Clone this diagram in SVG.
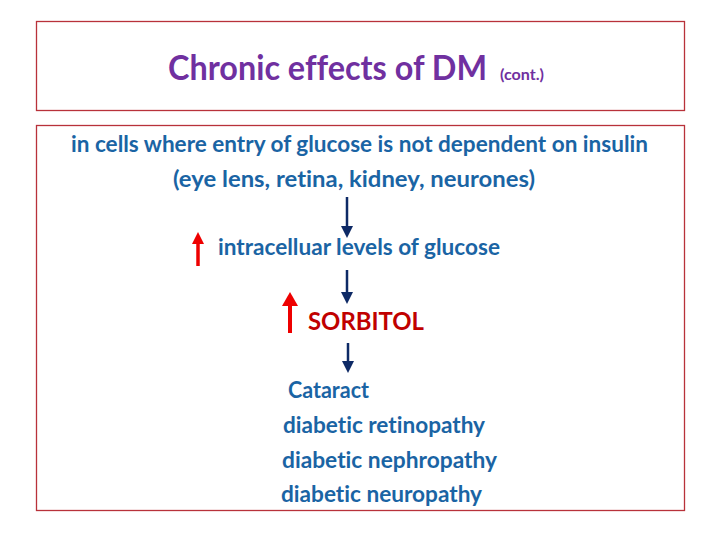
<svg xmlns="http://www.w3.org/2000/svg" width="720" height="540" viewBox="0 0 720 540">
<defs>
<style>
.box{fill:#fff;stroke:#b8323a;stroke-width:1.3}
.t{font-family:Lato,"Open Sans","Liberation Sans",sans-serif;font-weight:bold;fill:#1a64a4;font-size:23px;font-variant-ligatures:none;font-feature-settings:"liga" 0,"dlig" 0,"clig" 0}
.title{font-family:Lato,"Open Sans","Liberation Sans",sans-serif;font-weight:bold;fill:#7030a0;font-size:34px;font-variant-ligatures:none}
.small{font-size:16px}
.sorb{fill:#c00000;font-size:24px}
</style>
</defs>
<rect width="720" height="540" fill="#fff"/>
<g id="title">
<rect class="box" x="36.5" y="21.5" width="648" height="89"/>
<text class="title" x="168" y="80" textLength="319" lengthAdjust="spacingAndGlyphs">Chronic effects of DM</text>
<text class="title small" x="500" y="80" textLength="44" lengthAdjust="spacingAndGlyphs">(cont.)</text>
</g>
<g id="content-box"><rect class="box" x="36.5" y="125.5" width="648" height="385"/></g>
<g id="cells">
<text class="t" x="71" y="152" textLength="577" lengthAdjust="spacingAndGlyphs">in cells where entry of glucose is not dependent on insulin</text>
<text class="t" x="173" y="187" textLength="362" lengthAdjust="spacingAndGlyphs">(eye lens, retina, kidney, neurones)</text>
</g>
<g id="glucose">
<path d="M198,266 V240" stroke="#ee0000" stroke-width="3.5"/><path d="M192,244 L198,232 L204,244 Z" fill="#ee0000"/>
<text class="t" x="218" y="255" textLength="282" lengthAdjust="spacingAndGlyphs">intracelluar levels of glucose</text>
</g>
<g id="sorbitol">
<path d="M290,333 V300" stroke="#ee0000" stroke-width="4"/><path d="M282,306 L290,292 L298,306 Z" fill="#ee0000"/>
<text class="t sorb" x="308" y="330" textLength="116" lengthAdjust="spacingAndGlyphs">SORBITOL</text>
</g>
<g id="complications">
<text class="t" x="288" y="398" textLength="81" lengthAdjust="spacingAndGlyphs">Cataract</text>
<text class="t" x="283" y="433" textLength="202" lengthAdjust="spacingAndGlyphs">diabetic retinopathy</text>
<text class="t" x="282" y="468" textLength="215" lengthAdjust="spacingAndGlyphs">diabetic nephropathy</text>
<text class="t" x="281" y="502" textLength="201" lengthAdjust="spacingAndGlyphs">diabetic neuropathy</text>
</g>
<g id="connectors">
<path d="M347,197 V228" stroke="#0e2a66" stroke-width="2.5"/><path d="M341,226 L353,226 L347,238 Z" fill="#0e2a66"/>
<path d="M347,270 V294" stroke="#0e2a66" stroke-width="2.5"/><path d="M341,292 L353,292 L347,304 Z" fill="#0e2a66"/>
<path d="M348,343 V363" stroke="#0e2a66" stroke-width="2.5"/><path d="M342,361 L354,361 L348,373 Z" fill="#0e2a66"/>
</g>
</svg>
